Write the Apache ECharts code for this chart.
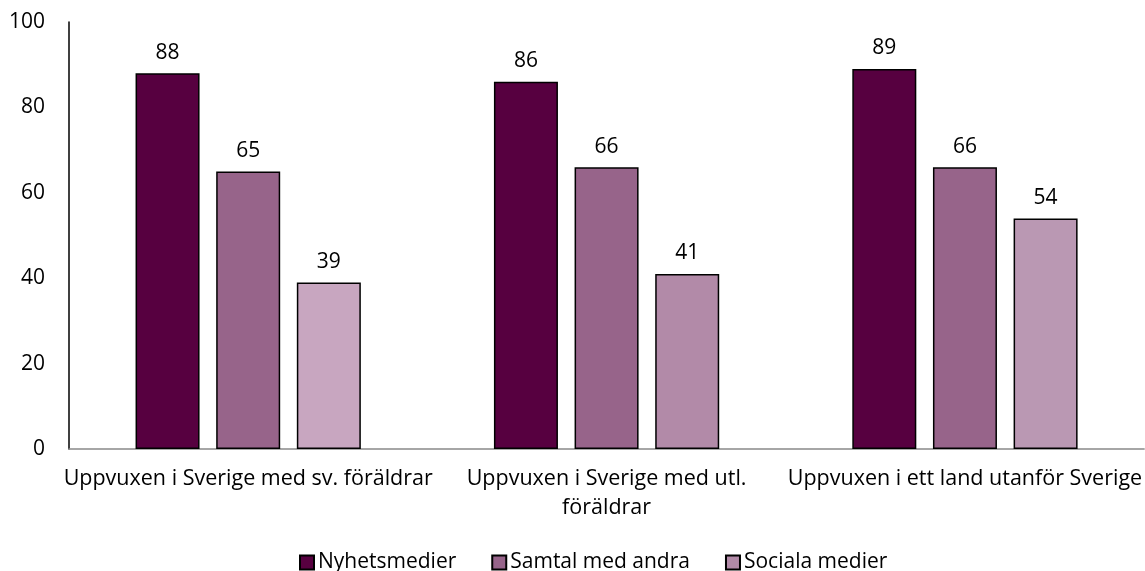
<!DOCTYPE html>
<html>
<head>
<meta charset="utf-8">
<script src="https://cdn.jsdelivr.net/npm/echarts@6/dist/echarts.min.js"></script>
<style>
  html, body { margin: 0; padding: 0; background: #fff; }
  #chart { width: 1145px; height: 571px; }
</style>
</head>
<body>
<div id="chart"></div>
<script>
// data
var categories = ['Uppvuxen i Sverige med sv. föräldrar', 'Uppvuxen i Sverige med utl. föräldrar', 'Uppvuxen i ett land utanför Sverige'];
var seriesNames = ['Nyhetsmedier', 'Samtal med andra', 'Sociala medier'];
var nyhetsmedier = [88, 86, 89];
var samtal = [65, 66, 66];
var sociala = [39, 41, 54];
var yTicks = [0, 20, 40, 60, 80, 100];

// colours
var c1 = '#570040';
var c2 = '#97648a';
var c3 = ['#c8a6c0', '#b28aa8', '#ba98b3'];

var font = '"Open Sans", sans-serif';

var labelOpt = {
  show: true,
  position: 'top',
  distance: 10,
  color: '#000',
  fontSize: 21,
  fontFamily: font
};

var myChart = echarts.init(document.getElementById('chart'));
myChart.setOption({
  animation: false,
  grid: { left: 69, right: 0, top: 22, bottom: 122, containLabel: false },
  legend: {
    top: 552,
    left: 299,
    padding: 0,
    itemWidth: 14,
    itemHeight: 14,
    itemGap: 35,
    icon: 'rect',
    textStyle: { color: '#000', fontSize: 21, lineHeight: 21, fontFamily: font, padding: [0, 0, 0, -1] },
    data: seriesNames.map(function (n, i) {
      return { name: n, itemStyle: { borderColor: '#000', borderWidth: 2, color: [c1, c2, c3[1]][i] } };
    })
  },
  xAxis: {
    type: 'category',
    data: categories,
    axisLine: { lineStyle: { color: '#898989', width: 1.5 } },
    axisTick: { show: false },
    axisLabel: {
      color: '#000',
      fontSize: 21.5,
      fontFamily: font,
      margin: 15,
      lineHeight: 29,
      interval: 0,
      formatter: function (v) {
        return v === categories[1] ? v.replace(' föräldrar', '\nföräldrar') : v;
      }
    }
  },
  yAxis: {
    type: 'value',
    min: yTicks[0],
    max: yTicks[yTicks.length - 1],
    interval: 20,
    splitLine: { show: false },
    axisLine: { show: true, lineStyle: { color: '#000', width: 1.5 } },
    axisTick: { show: false },
    axisLabel: { color: '#000', fontSize: 21, fontFamily: font, margin: 24 }
  },
  series: [
    {
      name: seriesNames[0],
      type: 'bar',
      data: nyhetsmedier,
      barWidth: 64,
      barGap: '26%',
      itemStyle: { color: c1, borderColor: '#000', borderWidth: 1.5 },
      label: labelOpt
    },
    {
      name: seriesNames[1],
      type: 'bar',
      data: samtal,
      barWidth: 64,
      barGap: '26%',
      itemStyle: { color: c2, borderColor: '#000', borderWidth: 1.5 },
      label: labelOpt
    },
    {
      name: seriesNames[2],
      type: 'bar',
      data: sociala.map(function (v, i) { return { value: v, itemStyle: { color: c3[i] } }; }),
      barWidth: 64,
      barGap: '26%',
      itemStyle: { color: c3[1], borderColor: '#000', borderWidth: 1.5 },
      label: labelOpt
    }
  ]
});
</script>
</body>
</html>
